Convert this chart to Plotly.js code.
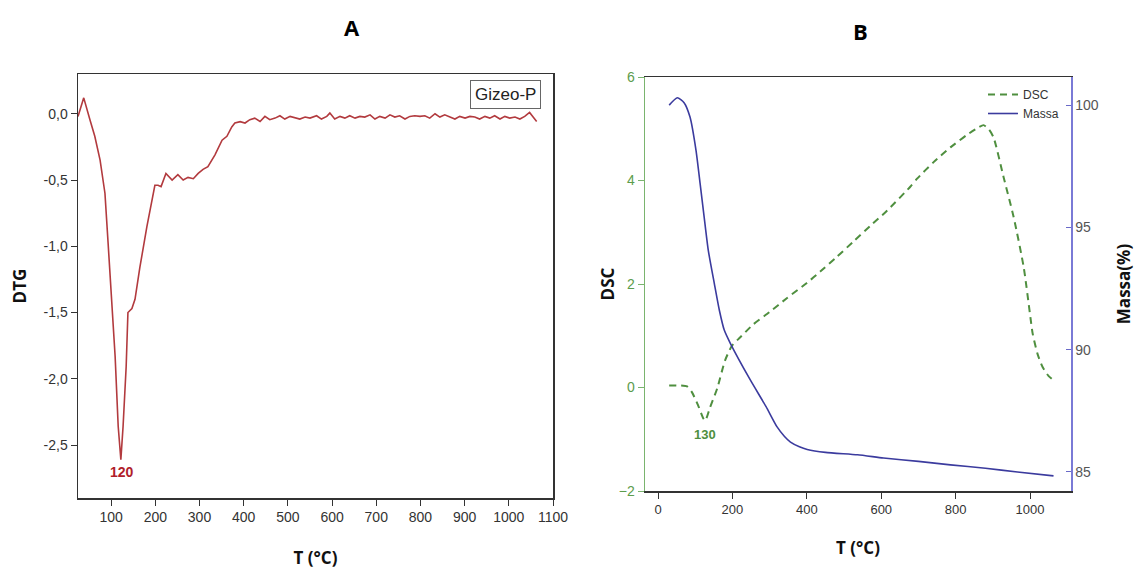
<!DOCTYPE html>
<html><head><meta charset="utf-8">
<script src="https://cdn.plot.ly/plotly-3.0.1.min.js"></script>
<style>html,body{margin:0;padding:0;background:#fff}#chart{width:1141px;height:574px}</style>
</head><body><div id="chart"></div>
<script>
// Panel A: DTG vs T
const dtgT = [25,38,52,63,75,86,93,102,109,116,122,127,134,138,147,154,165,181,192,199,206,213,224,238,251,263,274,286,297,308,319,335,351,362,373,
  380,392,403,414,425,437,448,459,471,482,493,505,516,527,539,550,565,576,588,595,606,618,629,640,652,663,674,686,697,708,720,731,742,753,765,776,787,799,810,821,833,844,855,867,878,889,901,912,923,934,946,957,968,980,991,1002,1014,1025,1036,1047,1063];
const dtgV = [-0.02,0.12,-0.045,-0.17,-0.35,-0.60,-0.97,-1.50,-1.83,-2.36,-2.61,-2.36,-1.91,-1.50,-1.47,-1.40,-1.16,-0.85,-0.65,-0.54,-0.54,-0.55,-0.45,-0.50,-0.46,-0.50,-0.48,-0.49,-0.45,-0.42,-0.40,-0.31,-0.20,-0.17,-0.10,
  -0.07,-0.06,-0.07,-0.045,-0.033,-0.058,-0.02,-0.045,-0.033,-0.015,-0.04,-0.02,-0.033,-0.04,-0.025,-0.033,-0.015,-0.04,-0.02,0.005,-0.04,-0.02,-0.033,-0.015,-0.033,-0.02,-0.025,-0.008,-0.04,-0.02,-0.033,-0.008,-0.025,-0.015,-0.04,-0.02,-0.015,-0.02,-0.015,-0.033,0.0,-0.025,-0.008,-0.025,-0.04,-0.02,-0.033,-0.02,-0.025,-0.04,-0.02,-0.033,-0.015,-0.04,-0.02,-0.033,-0.025,-0.04,-0.02,0.01,-0.058];
const dtgTickVals = [0,-0.5,-1,-1.5,-2,-2.5];
const dtgTickText = ["0,0","-0,5","-1,0","-1,5","-2,0","-2,5"];

// Panel B: DSC and mass vs T
const dscT = [30,50,78,91,108,122,127,140,159,180,199,221,256,300,347,400,436,480,525,570,616,678,697,740,786,830,860,875,890,902,929,956,983,1001,1007,1020,1034,1050,1063];
const dscV = [0.04,0.04,0.02,-0.09,-0.35,-0.60,-0.64,-0.38,-0.02,0.52,0.81,0.97,1.22,1.46,1.73,2.02,2.24,2.52,2.82,3.12,3.42,3.88,4.04,4.35,4.64,4.88,5.02,5.07,4.98,4.83,4.06,3.29,2.32,1.35,1.04,0.65,0.39,0.22,0.14];
const massT = [30,52,70,86,102,113,124,135,151,165,178,194,248,290,320,340,356,380,401,450,536,606,700,786,880,966,1063];
const massV = [100.0,100.3,100.1,99.51,98.16,96.81,95.42,94.07,92.73,91.6,90.8,90.27,88.76,87.68,86.84,86.45,86.22,86.03,85.92,85.8,85.70,85.57,85.43,85.29,85.15,85.0,84.84];

const FONT = "Liberation Sans, Arial, sans-serif";
const BOLD = "Open Sans, Liberation Sans, Arial, sans-serif";

const traces = [
  {x: dtgT, y: dtgV, xaxis:'x', yaxis:'y', type:'scatter', mode:'lines', line:{color:'#b23a3e', width:1.6}, showlegend:false, name:'Gizeo-P'},
  {x: dscT, y: dscV, xaxis:'x2', yaxis:'y2', type:'scatter', mode:'lines', line:{color:'#4f8f3f', width:2, dash:'7px,5px', shape:'spline', smoothing:0.6}, name:'DSC'},
  {x: massT, y: massV, xaxis:'x2', yaxis:'y3', type:'scatter', mode:'lines', line:{color:'#3b3b9e', width:1.6, shape:'spline', smoothing:0.6}, name:'Massa'}
];

const layout = {
  width:1141, height:574,
  margin:{l:0,r:0,t:0,b:0},
  paper_bgcolor:'#fff', plot_bgcolor:'#fff',
  font:{family:FONT, color:'#333'},
  showlegend:true,
  legend:{x:983/1141, y:1-80/574, xanchor:'left', yanchor:'top', bgcolor:'rgba(0,0,0,0)', font:{size:12, family:FONT, color:'#333'}, itemwidth:30, tracegroupgap:0},
  xaxis:{domain:[78/1141, 553/1141], range:[25,1100], dtick:100, tick0:0, anchor:'y',
    showline:true, linecolor:'#333', linewidth:1.5, mirror:true, ticks:'outside', ticklen:6, tickcolor:'#333',
    showgrid:false, zeroline:false, tickfont:{size:14, color:'#333'},
    title:{text:'T (°C)', font:{family:BOLD, size:17, color:'#111', weight:'bold'}, standoff:28}},
  yaxis:{domain:[1-498/574, 1-74/574], range:[-2.9,0.3], anchor:'x',
    tickvals:dtgTickVals, ticktext:dtgTickText,
    showline:true, linecolor:'#333', linewidth:1.5, mirror:true, ticks:'outside', ticklen:6, tickcolor:'#333',
    showgrid:false, zeroline:false, tickfont:{size:14, color:'#333'},
    title:{text:'DTG', font:{family:BOLD, size:17, color:'#111', weight:'bold'}, standoff:12}},
  xaxis2:{domain:[645/1141, 1071/1141], range:[-35,1110], dtick:200, tick0:0, anchor:'y2',
    showline:true, linecolor:'#333', linewidth:1.5, mirror:true, ticks:'outside', ticklen:6, tickcolor:'#333',
    showgrid:false, zeroline:false, tickfont:{size:13, color:'#333'},
    title:{text:'T (°C)', font:{family:BOLD, size:17, color:'#111', weight:'bold'}, standoff:26}},
  yaxis2:{domain:[1-491/574, 1-77/574], range:[-2,6], dtick:2, anchor:'x2',
    showline:true, linecolor:'#7ab46e', linewidth:1.5, ticks:'outside', ticklen:6, tickcolor:'#7ab46e',
    showgrid:false, zeroline:false, tickfont:{size:14, color:'#5c9c4c'},
    title:{text:'DSC', font:{family:BOLD, size:17, color:'#111', weight:'bold'}, standoff:0}},
  yaxis3:{overlaying:'y2', side:'right', anchor:'x2', range:[84.22,101.15], tickvals:[85,90,95,100],
    showline:true, linecolor:'#7a7ad6', linewidth:1.5, ticks:'inside', ticklen:5, tickcolor:'#6a6ac8',
    showgrid:false, zeroline:false, tickfont:{size:14, color:'#555'},
    title:{text:'Massa(%)', font:{family:BOLD, size:17, color:'#111', weight:'bold'}, standoff:20}},
  annotations:[
    {text:'<b>A</b>', xref:'paper', yref:'paper', x:342/1141, y:1-27/574, yanchor:'middle', showarrow:false, font:{family:BOLD, size:22, color:'#000'}},
    {text:'<b>B</b>', xref:'paper', yref:'paper', x:870/1141, y:1-31/574, yanchor:'middle', showarrow:false, font:{family:BOLD, size:22, color:'#000'}},
    {text:'Gizeo-P', xref:'paper', yref:'paper', x:505/1141, y:1-94.5/574, yanchor:'middle', showarrow:false, font:{family:FONT, size:17, color:'#222'},
      bordercolor:'#666', borderwidth:1, borderpad:4, bgcolor:'#fff'},
    {text:'<b>120</b>', xref:'x', yref:'y', x:124.5, y:-2.70, showarrow:false, font:{family:FONT, size:14, color:'#b0202a'}},
    {text:'<b>130</b>', xref:'x2', yref:'y2', x:127, y:-0.9, showarrow:false, font:{family:FONT, size:13, color:'#4f8f3f'}}
  ]
};
Plotly.newPlot('chart', traces, layout, {displayModeBar:false, staticPlot:true});
</script></body></html>
